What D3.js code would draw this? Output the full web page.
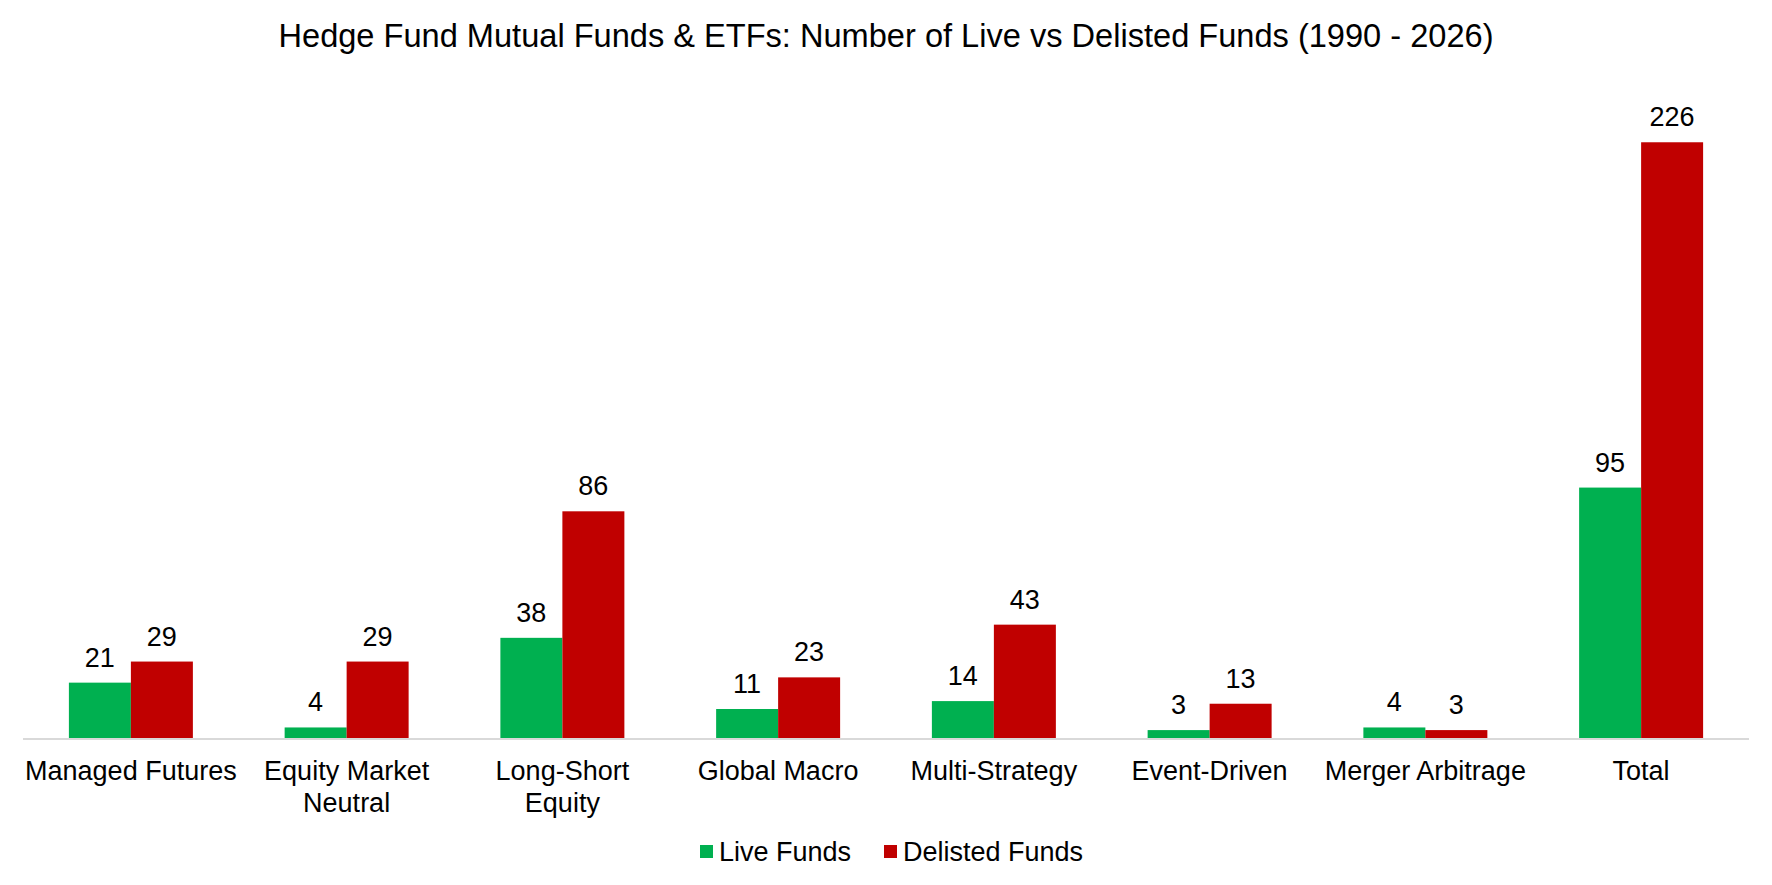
<!DOCTYPE html>
<html>
<head>
<meta charset="utf-8">
<script src="https://cdn.jsdelivr.net/npm/d3@7"></script>
<style>
  body { margin: 0; background: #fff; }
  text { font-family: "Liberation Sans", Arial, sans-serif; fill: #000; }
</style>
</head>
<body>
<script>
// data //
const categories = ["Managed Futures", "Equity Market Neutral", "Long-Short Equity", "Global Macro",
                    "Multi-Strategy", "Event-Driven", "Merger Arbitrage", "Total"];
const catLines = [["Managed Futures"], ["Equity Market", "Neutral"], ["Long-Short", "Equity"], ["Global Macro"],
                  ["Multi-Strategy"], ["Event-Driven"], ["Merger Arbitrage"], ["Total"]];
const seriesNames = ["Live Funds", "Delisted Funds"];
const liveFunds = [21, 4, 38, 11, 14, 3, 4, 95];
const delistedFunds = [29, 29, 86, 23, 43, 13, 3, 226];
const colors = ["#00B050", "#C00000"];

const width = 1772;
const height = 885;
const margin = { top: 79, right: 23, bottom: 147, left: 23 };
const baseY = height - margin.bottom;

const svg = d3.select('body')
  .append('svg')
  .attr('width', width)
  .attr('height', height);

// title
svg.append('text')
  .attr('x', width / 2)
  .attr('y', 47)
  .attr('text-anchor', 'middle')
  .style('font-size', '32.6px')
  .text("Hedge Fund Mutual Funds & ETFs: Number of Live vs Delisted Funds (1990 - 2026)");

// scales
const x0 = d3.scaleBand()
  .domain(categories)
  .range([margin.left, width - margin.right])
  .paddingInner(0.4253)
  .paddingOuter(0.2127);

const x1 = d3.scaleBand()
  .domain(seriesNames)
  .range([0, x0.bandwidth()]);

const y = d3.scaleLinear()
  .domain([0, 250])
  .range([baseY, margin.top]);

const rows = categories.map((c, i) => ({
  cat: c,
  values: [
    { key: seriesNames[0], v: liveFunds[i], color: colors[0] },
    { key: seriesNames[1], v: delistedFunds[i], color: colors[1] }
  ]
}));

const groups = svg.selectAll('.grp')
  .data(rows)
  .enter().append('g')
  .attr('class', 'grp')
  .attr('transform', d => 'translate(' + x0(d.cat) + ',0)');

groups.selectAll('rect')
  .data(d => d.values)
  .enter().append('rect')
  .attr('x', d => x1(d.key))
  .attr('y', d => y(d.v))
  .attr('width', x1.bandwidth())
  .attr('height', d => baseY - y(d.v))
  .attr('fill', d => d.color);

groups.selectAll('.lbl')
  .data(d => d.values)
  .enter().append('text')
  .attr('class', 'lbl')
  .attr('x', d => x1(d.key) + x1.bandwidth() / 2)
  .attr('y', d => y(d.v) - 16)
  .attr('text-anchor', 'middle')
  .style('font-size', '27px')
  .text(d => d.v);

// x axis line
svg.append('line')
  .attr('x1', margin.left)
  .attr('x2', width - margin.right)
  .attr('y1', baseY + 1)
  .attr('y2', baseY + 1)
  .attr('stroke', '#D9D9D9')
  .attr('stroke-width', 2);

// category labels
categories.forEach((c, i) => {
  const t = svg.append('text')
    .attr('text-anchor', 'middle')
    .style('font-size', '27px');
  catLines[i].forEach((ln, j) => {
    t.append('tspan')
      .attr('x', x0(c) + x0.bandwidth() / 2)
      .attr('y', 780 + j * 32)
      .text(ln);
  });
});

// legend
const legend = svg.append('g');
const legendPos = [700, 884];
seriesNames.forEach((s, i) => {
  legend.append('rect')
    .attr('x', legendPos[i])
    .attr('y', 845)
    .attr('width', 13)
    .attr('height', 13)
    .attr('fill', colors[i]);
  legend.append('text')
    .attr('x', legendPos[i] + 19)
    .attr('y', 861)
    .style('font-size', '27px')
    .text(s);
});
</script>
</body>
</html>
